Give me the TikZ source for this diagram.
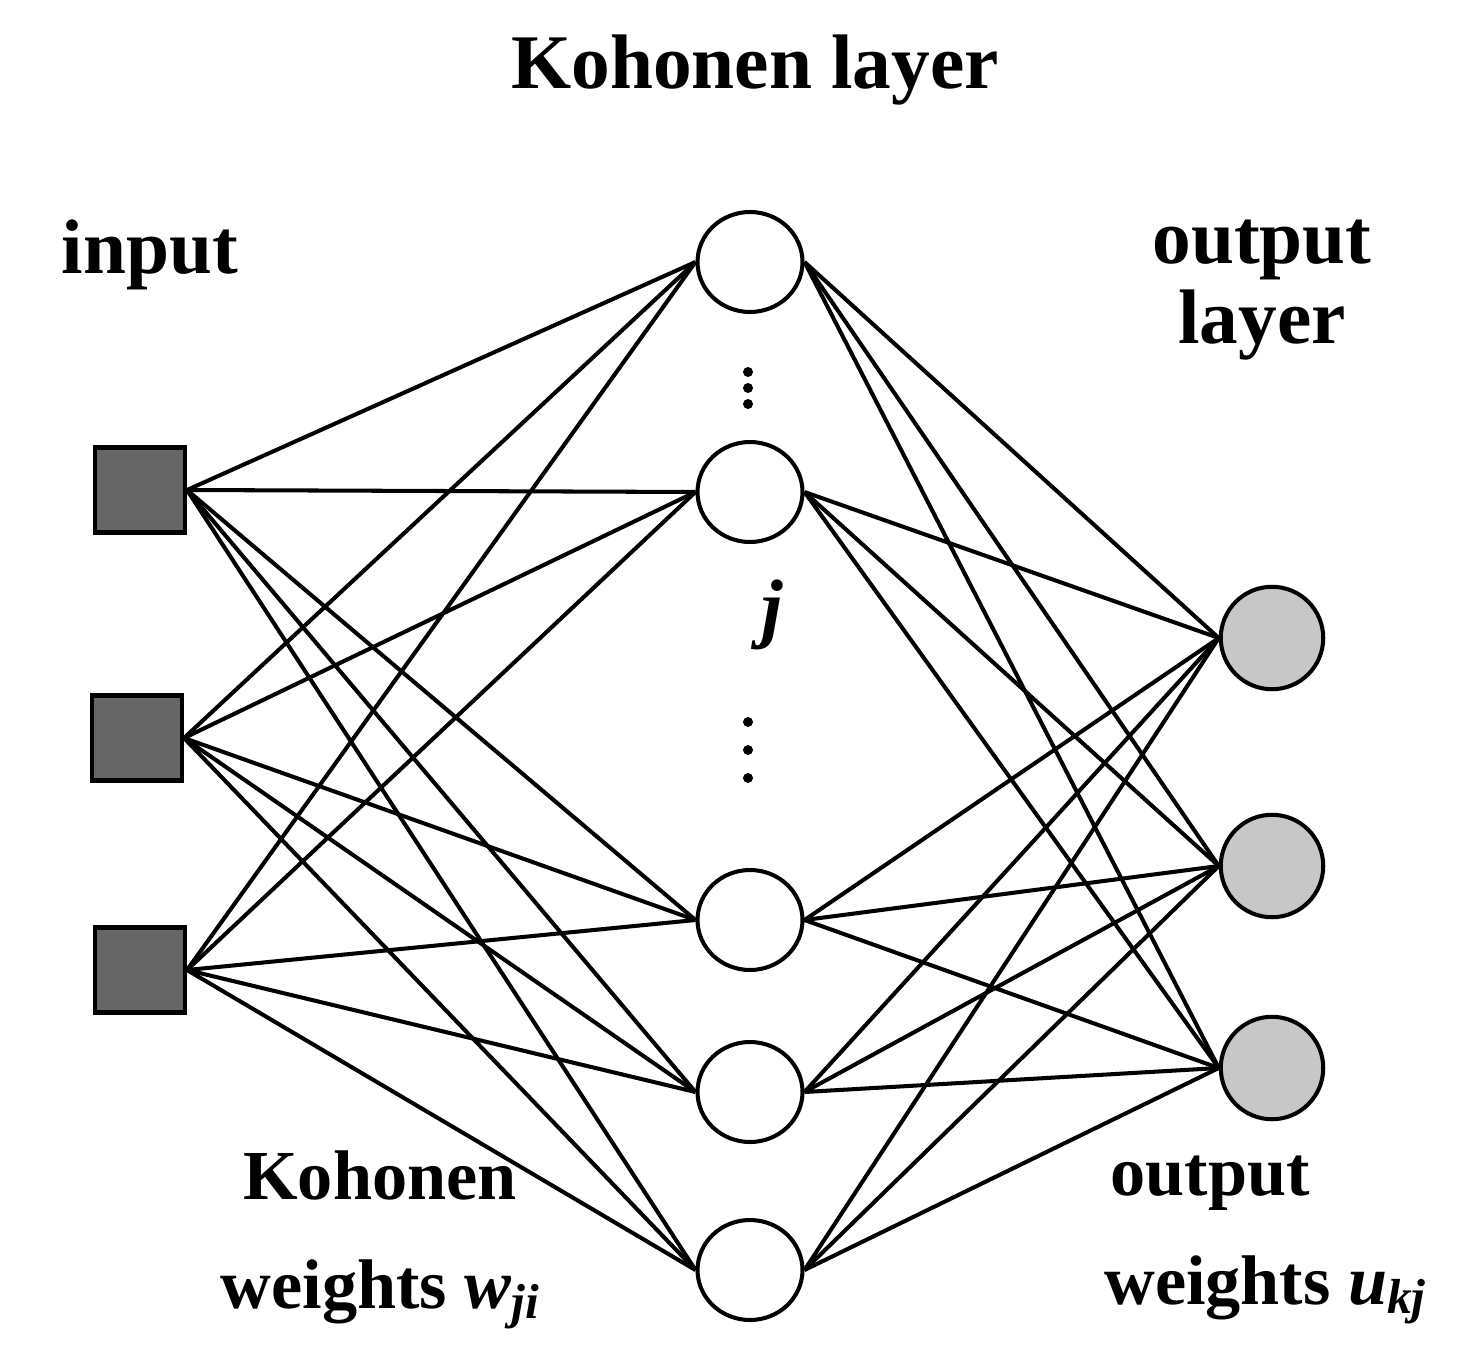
\documentclass[tikz,border=0pt]{standalone}
\usepackage{fontspec}
\setmainfont{Liberation Serif}
\usetikzlibrary{shapes.geometric,backgrounds}
\begin{document}
\begin{tikzpicture}[x=0.02cm,y=-0.02cm,
  inp/.style={draw,line width=2.3pt,fill=black!60,minimum width=1.8cm,minimum height=1.7cm,inner sep=0},
  koh/.style={draw,line width=2.3pt,fill=white,ellipse,minimum width=2.1cm,minimum height=2cm,inner sep=0},
  outn/.style={draw,line width=2.3pt,fill=black!22,circle,minimum size=2.05cm,inner sep=0},
  conn/.style={line width=2.3pt},
  lab/.style={font=\fontsize{44}{46}\selectfont\bfseries,align=center},
  dot/.style={circle,fill=black,inner sep=0,minimum size=0.2cm}]
\useasboundingbox (0,0) rectangle (1469,1368);
\node[inp] (i1) at (140,490) {};
\node[inp] (i2) at (137,738) {};
\node[inp] (i3) at (140,970) {};
\node[koh] (k1) at (750,262) {};
\node[koh] (k2) at (750,492) {};
\node[koh] (k3) at (750,920) {};
\node[koh] (k4) at (750,1092) {};
\node[koh] (k5) at (750,1270) {};
\node[outn] (o1) at (1272,638) {};
\node[outn] (o2) at (1272,866) {};
\node[outn] (o3) at (1272,1068) {};
\begin{scope}[on background layer]
\foreach \a in {i1,i2,i3}{\foreach \b in {k1,k2,k3,k4,k5}{\draw[conn] (\a.east) -- (\b.west);}}
\foreach \a in {k1,k2,k3,k4,k5}{\foreach \b in {o1,o2,o3}{\draw[conn] (\a.east) -- (\b.west);}}
\end{scope}
\node[dot] (d1) at (748,372) {};
\node[dot] (d2) at (748,388) {};
\node[dot] (d3) at (748,404) {};
\node[dot] (d4) at (748,722) {};
\node[dot] (d5) at (748,750) {};
\node[dot] (d6) at (748,778) {};
\node[font=\fontsize{44}{46}\selectfont\bfseries\itshape] (j) at (772,615) {j};
\node[lab] (t1) at (755,70) {Kohonen layer};
\node[lab] (t2) at (150,255) {input};
\node[lab] (t3) at (1262,290) {output\\layer};
\node[lab,font=\fontsize{40}{62}\selectfont\bfseries] (t4) at (380,1240) {Kohonen\\weights \textit{w}\raisebox{-0.3ex}{\fontsize{28}{30}\selectfont\textit{ji}}};
\node[lab,font=\fontsize{40}{62}\selectfont\bfseries] (t5) at (1265,1240) {output\hspace*{2.2cm}\\weights \textit{u}\raisebox{-0.3ex}{\fontsize{28}{30}\selectfont\textit{kj}}};
\end{tikzpicture}
\end{document}
